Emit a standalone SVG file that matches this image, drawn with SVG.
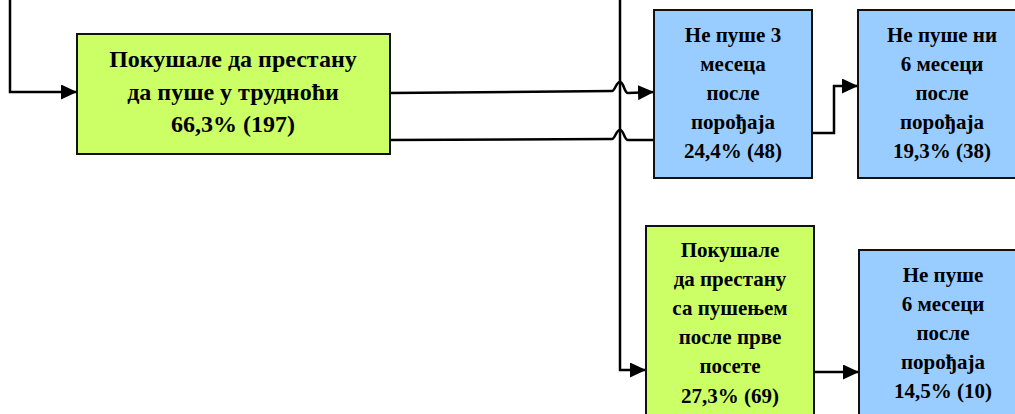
<svg xmlns="http://www.w3.org/2000/svg" width="1015" height="414" viewBox="0 0 1015 414">
<style>
.g{fill:#CCFF66;stroke:#111;stroke-width:2}
.b{fill:#99CCFF;stroke:#111;stroke-width:2}
.c{fill:none;stroke:#000;stroke-width:2.5}
text{font-family:"Liberation Serif","Times New Roman",serif;font-weight:bold;fill:#000;text-anchor:middle}
.t1{font-size:24px}
.t2{font-size:21px}
</style>
<defs>
<marker id="ar" markerUnits="userSpaceOnUse" markerWidth="16" markerHeight="15" refX="16" refY="7.5" orient="auto">
<path d="M0,0 L16,7.5 L0,15 z" fill="#000"/>
</marker>
</defs>
<g id="connectors">
<path class="c" d="M10,0 L10,92 L77,92" marker-end="url(#ar)"/>
<path class="c" d="M620,0 L620,370 L646,370" marker-end="url(#ar)"/>
<path class="c" d="M390,93 L612,91 C615,91 616,82 620,82 C624,82 624,93 628,93 L654,92" marker-end="url(#ar)"/>
<path class="c" d="M390,140 L612,139 C615,139 616,130 620,130 C624,130 624,140 628,140 L653,140"/>
<path class="c" d="M812,133 L834,133 L834,86 L858,86" marker-end="url(#ar)"/>
<path class="c" d="M814,372 L859,372" marker-end="url(#ar)"/>
</g>
<g id="n1">
<rect class="g" x="77" y="34" width="313" height="120"/>
<text class="t1" x="233" y="67">Покушале да престану</text>
<text class="t1" x="233" y="99.5">да пуше у трудноћи</text>
<text class="t1" x="233" y="132">66,3% (197)</text>
</g>
<g id="n2">
<rect class="b" x="654" y="10" width="158" height="168"/>
<text class="t2" x="733" y="42">Не пуше 3</text>
<text class="t2" x="733" y="71">месеца</text>
<text class="t2" x="733" y="100">после</text>
<text class="t2" x="733" y="129">порођаја</text>
<text class="t2" x="733" y="158">24,4% (48)</text>
</g>
<g id="n3">
<rect class="b" x="858" y="10" width="168" height="168"/>
<text class="t2" x="942" y="42">Не пуше ни</text>
<text class="t2" x="942" y="71">6 месеци</text>
<text class="t2" x="942" y="100">после</text>
<text class="t2" x="942" y="129">порођаја</text>
<text class="t2" x="942" y="158">19,3% (38)</text>
</g>
<g id="n4">
<rect class="g" x="646" y="226" width="168" height="200"/>
<text class="t2" x="730" y="257">Покушале</text>
<text class="t2" x="730" y="286">да престану</text>
<text class="t2" x="730" y="315">са пушењем</text>
<text class="t2" x="730" y="344">после прве</text>
<text class="t2" x="730" y="373">посете</text>
<text class="t2" x="730" y="403">27,3% (69)</text>
</g>
<g id="n5">
<rect class="b" x="859" y="250" width="168" height="180"/>
<text class="t2" x="943" y="282">Не пуше</text>
<text class="t2" x="943" y="311">6 месеци</text>
<text class="t2" x="943" y="340">после</text>
<text class="t2" x="943" y="369">порођаја</text>
<text class="t2" x="943" y="398">14,5% (10)</text>
</g>
</svg>
